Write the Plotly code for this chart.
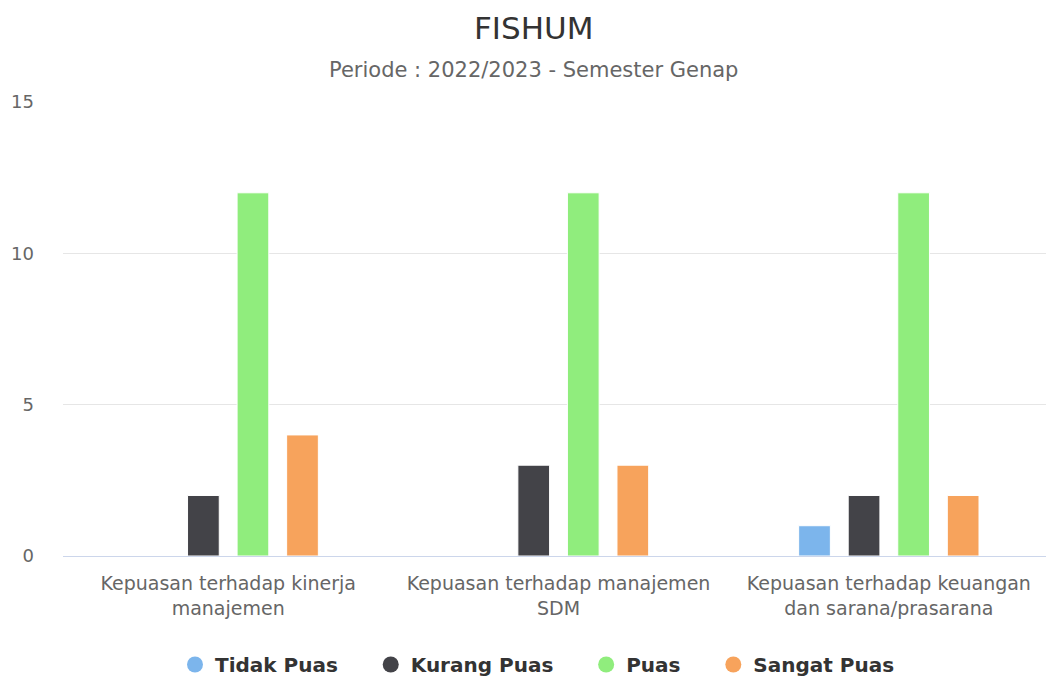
import plotly.graph_objects as go

# Data
categories = [
    "Kepuasan terhadap kinerja manajemen",
    "Kepuasan terhadap manajemen SDM",
    "Kepuasan terhadap keuangan dan sarana/prasarana",
]
tick_labels = [
    "Kepuasan terhadap kinerja<br>manajemen",
    "Kepuasan terhadap manajemen<br>SDM",
    "Kepuasan terhadap keuangan<br>dan sarana/prasarana",
]
tidak_puas = [0, 0, 1]
kurang_puas = [2, 3, 2]
puas = [12, 12, 12]
sangat_puas = [4, 3, 2]

series = [
    ("Tidak Puas", tidak_puas, "#7cb5ec"),
    ("Kurang Puas", kurang_puas, "#434348"),
    ("Puas", puas, "#90ed7d"),
    ("Sangat Puas", sangat_puas, "#f7a35c"),
]

font_family = "DejaVu Sans, Verdana, sans-serif"
pad = "\u00a0" * 4  # extra room between legend entries

fig = go.Figure()
for i, (name, values, color) in enumerate(series):
    fig.add_trace(go.Bar(
        x=categories, y=values, name=name,
        marker=dict(color=color, line=dict(width=1, color="white")),
        showlegend=False,
    ))
    # round legend symbols like the original
    fig.add_trace(go.Scatter(
        x=[None], y=[None], mode="markers",
        name=name + (pad if i < len(series) - 1 else ""),
        marker=dict(color=color, size=16, symbol="circle"),
    ))

# the page body has an 8px margin; size the figure so the page doesn't scroll
off = 8
W, H = 1054, 684
plot_top, plot_bottom, plot_left = 102, 560, 63
ph = plot_bottom - plot_top
pw = W - plot_left
title_cx = 533

fig.update_layout(
    width=W - off, height=H - off,
    margin=dict(l=plot_left - off, r=0, t=plot_top - off, b=H - plot_bottom),
    paper_bgcolor="white", plot_bgcolor="white",
    font=dict(family=font_family, color="#666666"),
    barmode="group", bargap=0.4, bargroupgap=0.36,
    showlegend=True,
    legend=dict(
        orientation="h", x=(175 - plot_left) / pw, xanchor="left",
        y=-(670 - plot_bottom) / ph, yanchor="middle",
        font=dict(size=20, color="#333333", family=font_family, weight="bold"),
        itemwidth=30, tracegroupgap=0,
    ),
    annotations=[
        dict(text="FISHUM", x=(title_cx - plot_left) / pw,
             y=1 + (plot_top - 27) / ph, yanchor="middle",
             xref="paper", yref="paper", showarrow=False,
             font=dict(size=31, color="#333333")),
        dict(text="Periode : 2022/2023 - Semester Genap",
             x=(title_cx - plot_left) / pw,
             y=1 + (plot_top - 70) / ph, yanchor="middle",
             xref="paper", yref="paper", showarrow=False,
             font=dict(size=21, color="#666666")),
    ],
)

fig.update_xaxes(
    tickvals=categories, ticktext=tick_labels,
    tickfont=dict(size=19, color="#666666"),
    showline=True, linecolor="#ccd6eb", linewidth=1,
    ticks="outside", ticklen=10, tickcolor="rgba(0,0,0,0)",
    showgrid=False, automargin=False,
)
fig.update_yaxes(
    range=[0, 15], tickvals=[0, 5, 10, 15],
    tickfont=dict(size=18, color="#666666"),
    gridcolor="#e6e6e6", gridwidth=1, zeroline=False,
    ticklabelstandoff=28, automargin=False,
)

fig.write_html("out.html")
